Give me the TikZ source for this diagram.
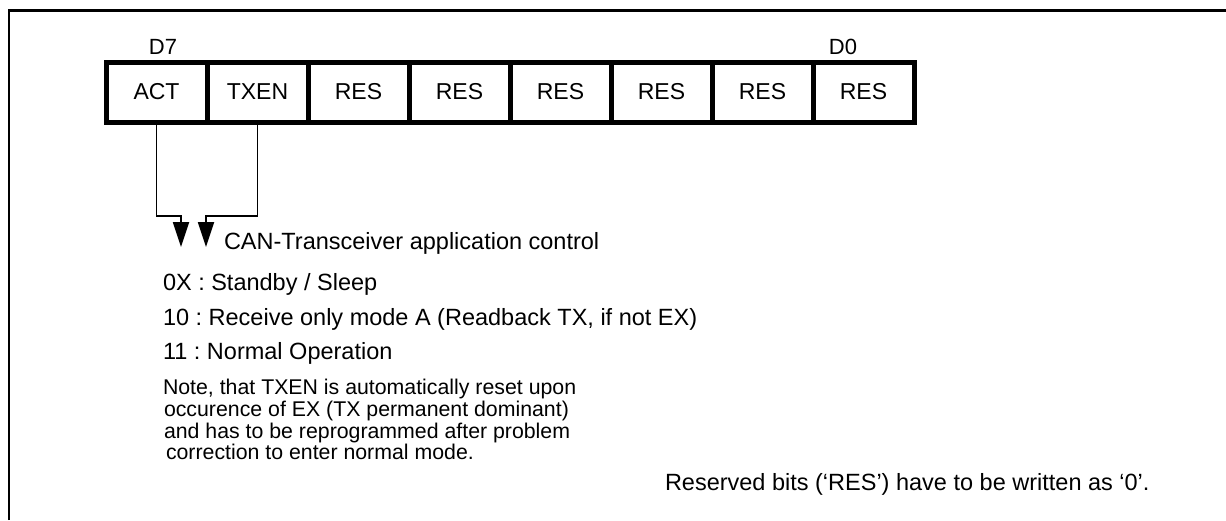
\documentclass[tikz,border=0pt]{standalone}
\usepackage{fontspec}
\setmainfont{Liberation Sans}
\usetikzlibrary{arrows.meta,positioning}
\frenchspacing

\begin{document}
\begin{tikzpicture}
  [x=1pt,y=-1pt,
   every node/.style={inner sep=0pt,outer sep=0pt,font=\fontsize{23.5}{23.5}\selectfont},
   bit/.style={draw,line width=5pt,minimum width=101pt,minimum height=60pt,font=\fontsize{23}{23}\selectfont},
   line/.style={line width=1.8pt},
   note/.style={anchor=base west},
   small/.style={note,font=\fontsize{21.3}{21.3}\selectfont}]
  \useasboundingbox (0,0) rectangle (1226,520);
  \draw[line width=2.3pt] (9,520) |- (1226,10.5);
  % register bits D7..D0
  \node[bit] (b7) at (156.5,92) {ACT};
  \node[bit,right=0pt of b7] (b6) {TXEN};
  \node[bit,right=0pt of b6] (b5) {RES};
  \node[bit,right=0pt of b5] (b4) {RES};
  \node[bit,right=0pt of b4] (b3) {RES};
  \node[bit,right=0pt of b3] (b2) {RES};
  \node[bit,right=0pt of b2] (b1) {RES};
  \node[bit,right=0pt of b1] (b0) {RES};
  \node[anchor=base,font=\fontsize{22}{22}\selectfont] (d7) at (163,54) {D7};
  \node[anchor=base,font=\fontsize{22}{22}\selectfont] (d0) at (843,54) {D0};
  % control bits
  \coordinate (actend) at (181,247);
  \coordinate (txenend) at (206,247);
  \draw[line,-{Triangle[length=25pt,width=16pt]}] (b7.south) -- ++(0,94) -| (actend);
  \draw[line,-{Triangle[length=25pt,width=16pt]}] (b6.south) -- ++(0,94) -| (txenend);
  \node[note] (ctrl) at (224,249) {CAN-Transceiver application control};
  \node[note] (m0) at (163,290) {0X : Standby / Sleep};
  \node[note] (m1) at (163,325) {10 : Receive only mode A (Readback TX, if not EX)};
  \node[note] (m2) at (163,359) {11 : Normal Operation};
  \node[small] (n1) at (163,394) {Note, that TXEN is automatically reset upon};
  \node[small] (n2) at (164,416) {occurence of EX (TX permanent dominant)};
  \node[small] (n3) at (164,438) {and has to be reprogrammed after problem};
  \node[small] (n4) at (166,459) {correction to enter normal mode.};
  \node[note] (res) at (665,490) {Reserved bits (‘RES’) have to be written as ‘0’.};
\end{tikzpicture}
\end{document}
